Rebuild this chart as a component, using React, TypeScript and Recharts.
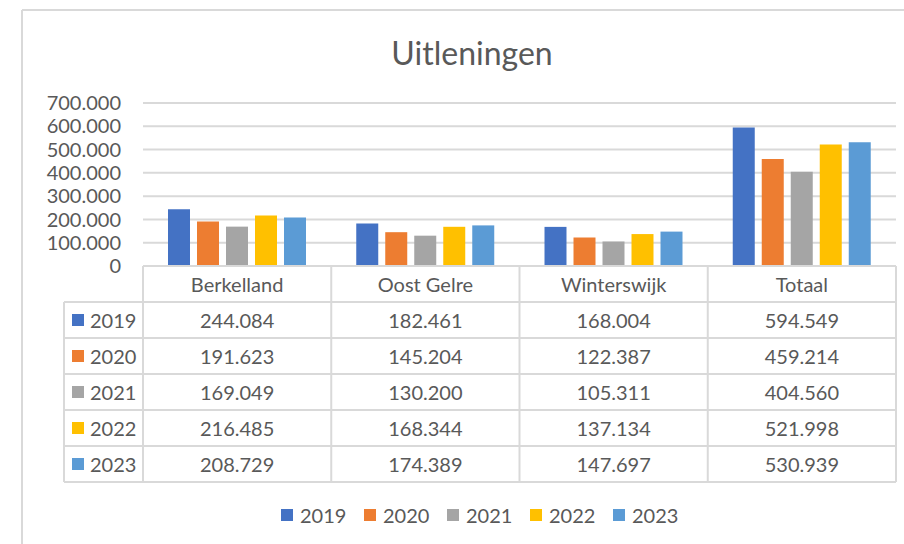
import { BarChart, Bar, XAxis, YAxis, CartesianGrid } from 'recharts';

const categories = ['Berkelland', 'Oost Gelre', 'Winterswijk', 'Totaal'];
const years = ['2019', '2020', '2021', '2022', '2023'];
const COLORS = ['#4472C4', '#ED7D31', '#A5A5A5', '#FFC000', '#5B9BD5'];

const v2019 = [244084, 182461, 168004, 594549];
const v2020 = [191623, 145204, 122387, 459214];
const v2021 = [169049, 130200, 105311, 404560];
const v2022 = [216485, 168344, 137134, 521998];
const v2023 = [208729, 174389, 147697, 530939];
const series = [v2019, v2020, v2021, v2022, v2023];

const yTicks = [0, 100000, 200000, 300000, 400000, 500000, 600000, 700000];

const W = 904;
const H = 544;
const PLOT_L = 143;
const PLOT_R = 896;
const PLOT_T = 103;
const PLOT_B = 266;
const ROW_H = 36;
const TABLE_L = 64;
const TEXT = '#595959';
const LINE = '#d9d9d9';
const FONT = 'Lato, "Open Sans", sans-serif';

// dutch thousands separator: 244084 -> 244.084
const fmt = (v: number) => String(v).replace(/\B(?=(\d{3})+(?!\d))/g, '.');

const data = categories.map((name, i) => {
  const row: Record<string, string | number> = { name };
  years.forEach((y, s) => {
    row[y] = series[s][i];
  });
  return row;
});

function Overlay() {
  const colW = (PLOT_R - PLOT_L) / categories.length;
  const tableB = PLOT_B + ROW_H * (years.length + 1);
  const lines = [];
  // horizontal row lines
  lines.push(<line key="h0" x1={PLOT_L} x2={PLOT_R} y1={PLOT_B} y2={PLOT_B} />);
  for (let r = 1; r <= years.length + 1; r++) {
    const y = PLOT_B + ROW_H * r;
    lines.push(<line key={'h' + r} x1={TABLE_L} x2={PLOT_R} y1={y} y2={y} />);
  }
  // vertical lines
  lines.push(<line key="vl" x1={TABLE_L} x2={TABLE_L} y1={PLOT_B + ROW_H} y2={tableB} />);
  for (let c = 0; c <= categories.length; c++) {
    const x = PLOT_L + colW * c;
    lines.push(<line key={'v' + c} x1={x} x2={x} y1={PLOT_B} y2={tableB} />);
  }

  const legendStart = 281;
  const legendStep = 83;
  const legendY = 515;

  return (
    <svg
      width={W}
      height={H}
      style={{ position: 'absolute', left: 0, top: 0, pointerEvents: 'none' }}
      fontFamily={FONT}
    >
      {/* chart frame */}
      <line x1={22} x2={W} y1={10} y2={10} stroke={LINE} strokeWidth={2} />
      <line x1={22} x2={22} y1={10} y2={H} stroke={LINE} strokeWidth={2} />

      <text x={472} y={52} textAnchor="middle" dominantBaseline="central" fontSize={32} fill={TEXT}>
        Uitleningen
      </text>

      <g stroke={LINE} strokeWidth={2}>{lines}</g>

      {categories.map((c, i) => (
        <text
          key={c}
          x={PLOT_L + colW * (i + 0.5)}
          y={PLOT_B + ROW_H / 2}
          textAnchor="middle"
          dominantBaseline="central"
          fontSize={20}
          fill={TEXT}
        >
          {c}
        </text>
      ))}

      {years.map((y, s) => {
        const cy = PLOT_B + ROW_H * (s + 1) + ROW_H / 2;
        return (
          <g key={y}>
            <rect x={72} y={cy - 6} width={12} height={12} fill={COLORS[s]} />
            <text x={90} y={cy} dominantBaseline="central" fontSize={20} fill={TEXT}>
              {y}
            </text>
            {series[s].map((v, i) => (
              <text
                key={i}
                x={PLOT_L + colW * (i + 0.5)}
                y={cy}
                textAnchor="middle"
                dominantBaseline="central"
                fontSize={20}
                fill={TEXT}
              >
                {fmt(v)}
              </text>
            ))}
          </g>
        );
      })}

      {years.map((y, s) => (
        <g key={'lg' + y}>
          <rect x={legendStart + legendStep * s} y={legendY - 6} width={12} height={12} fill={COLORS[s]} />
          <text
            x={legendStart + legendStep * s + 19}
            y={legendY}
            dominantBaseline="central"
            fontSize={20}
            fill={TEXT}
          >
            {y}
          </text>
        </g>
      ))}
    </svg>
  );
}

export default function App() {
  return (
    <div style={{ position: 'absolute', left: 0, top: 0, width: W, height: H, background: '#fff' }}>
      <BarChart
        width={W}
        height={H}
        data={data}
        margin={{ top: PLOT_T, right: W - PLOT_R, bottom: H - PLOT_B, left: 0 }}
        barSize={22}
        barGap={7}
      >
        <CartesianGrid vertical={false} stroke={LINE} strokeWidth={2} />
        <XAxis dataKey="name" hide />
        <YAxis
          width={PLOT_L}
          domain={[0, 700000]}
          ticks={yTicks}
          interval={0}
          axisLine={false}
          tickLine={false}
          tickSize={0}
          tickMargin={22}
          tickFormatter={fmt}
          tick={{ fill: TEXT, fontSize: 20, fontFamily: FONT }}
        />
        {years.map((y, s) => (
          <Bar key={y} dataKey={y} fill={COLORS[s]} isAnimationActive={false} />
        ))}
      </BarChart>
      <Overlay />
    </div>
  );
}
